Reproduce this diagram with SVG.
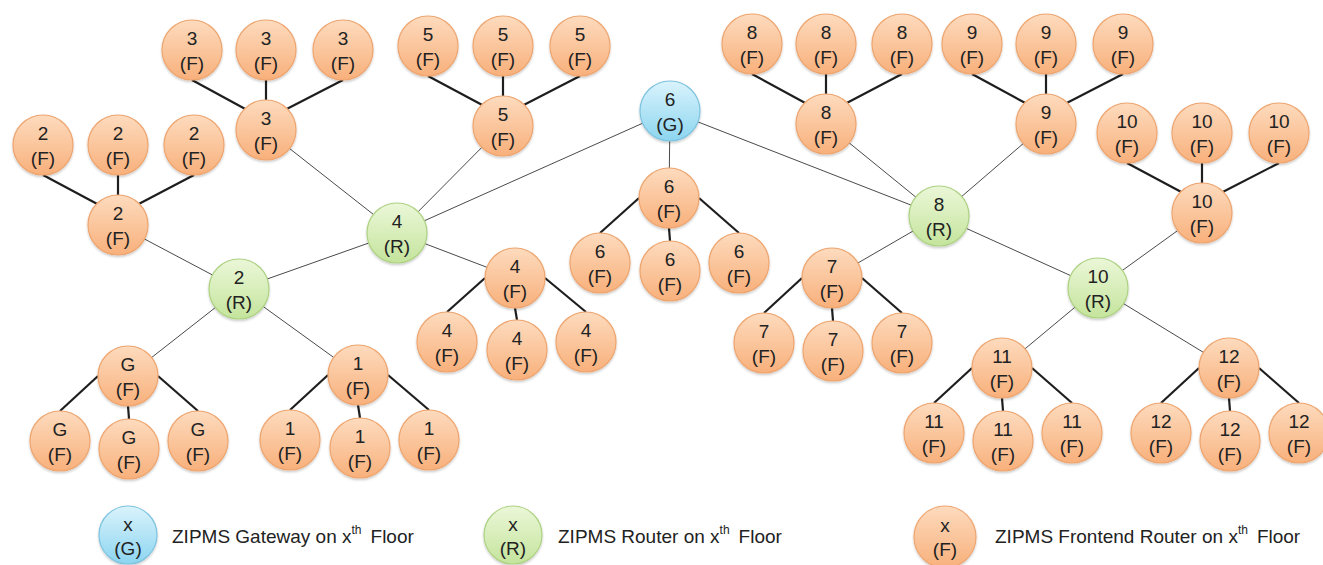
<svg xmlns="http://www.w3.org/2000/svg" width="1323" height="565" viewBox="0 0 1323 565">
<defs>
<linearGradient id="gf" x1="0" y1="0" x2="0" y2="1"><stop offset="0" stop-color="#FDDBBE"/><stop offset="1" stop-color="#F8B07B"/></linearGradient>
<linearGradient id="gr" x1="0" y1="0" x2="0" y2="1"><stop offset="0" stop-color="#EBF7D8"/><stop offset="1" stop-color="#C4E49C"/></linearGradient>
<linearGradient id="gg" x1="0" y1="0" x2="0" y2="1"><stop offset="0" stop-color="#DAF3FC"/><stop offset="1" stop-color="#8CD5F0"/></linearGradient>
<filter id="sh" x="-20%" y="-20%" width="140%" height="150%"><feDropShadow dx="0" dy="1.5" stdDeviation="1.2" flood-color="#000" flood-opacity="0.22"/></filter>
</defs>
<style>
.f{fill:url(#gf);stroke:#EEA56F;stroke-width:1.2;filter:url(#sh)}
.r{fill:url(#gr);stroke:#AED283;stroke-width:1.2;filter:url(#sh)}
.g{fill:url(#gg);stroke:#7EC3DF;stroke-width:1.2;filter:url(#sh)}
.t{font-family:"Liberation Sans",Arial,sans-serif;font-size:19px;fill:#222;text-anchor:middle}
.lg{font-family:"Liberation Sans",Arial,sans-serif;font-size:19px;fill:#222}
.thin{stroke:#4a4a4a;stroke-width:1;fill:none}
.thick{stroke:#1e1e1e;stroke-width:2.2;fill:none}
</style>
<rect width="1323" height="565" fill="#fff"/>
<g id="connectors">
<line class="thin" x1="118" y1="225" x2="239" y2="289"/>
<line class="thin" x1="239" y1="289" x2="397" y2="233"/>
<line class="thin" x1="239" y1="289" x2="128" y2="376"/>
<line class="thin" x1="239" y1="289" x2="358" y2="375"/>
<line class="thin" x1="266" y1="130" x2="397" y2="233"/>
<line class="thin" x1="503" y1="126" x2="397" y2="233"/>
<line class="thin" x1="670" y1="111" x2="397" y2="233"/>
<line class="thin" x1="397" y1="233" x2="515" y2="278"/>
<line class="thin" x1="670" y1="111" x2="669" y2="198"/>
<line class="thin" x1="670" y1="111" x2="939" y2="216"/>
<line class="thin" x1="826" y1="124" x2="939" y2="216"/>
<line class="thin" x1="1046" y1="124" x2="939" y2="216"/>
<line class="thin" x1="939" y1="216" x2="832" y2="278"/>
<line class="thin" x1="939" y1="216" x2="1098" y2="288"/>
<line class="thin" x1="1202" y1="213" x2="1098" y2="288"/>
<line class="thin" x1="1098" y1="288" x2="1002" y2="368"/>
<line class="thin" x1="1098" y1="288" x2="1229" y2="368"/>
<line class="thick" x1="43" y1="175" x2="96.8" y2="203.8"/>
<line class="thick" x1="118" y1="175" x2="118" y2="195"/>
<line class="thick" x1="194" y1="175" x2="139.2" y2="203.8"/>
<line class="thick" x1="192" y1="80" x2="244.8" y2="108.8"/>
<line class="thick" x1="266" y1="80" x2="266" y2="100"/>
<line class="thick" x1="343" y1="80" x2="287.2" y2="108.8"/>
<line class="thick" x1="428" y1="76" x2="481.8" y2="104.8"/>
<line class="thick" x1="503" y1="76" x2="503" y2="96"/>
<line class="thick" x1="580" y1="76" x2="524.2" y2="104.8"/>
<line class="thick" x1="752" y1="74" x2="804.8" y2="102.8"/>
<line class="thick" x1="826" y1="74" x2="826" y2="94"/>
<line class="thick" x1="902" y1="74" x2="847.2" y2="102.8"/>
<line class="thick" x1="972" y1="74" x2="1024.8" y2="102.8"/>
<line class="thick" x1="1046" y1="74" x2="1046" y2="94"/>
<line class="thick" x1="1123" y1="74" x2="1067.2" y2="102.8"/>
<line class="thick" x1="1127" y1="163" x2="1180.8" y2="191.8"/>
<line class="thick" x1="1202" y1="163" x2="1202" y2="183"/>
<line class="thick" x1="1279" y1="163" x2="1223.2" y2="191.8"/>
<line class="thick" x1="98" y1="376" x2="60" y2="411"/>
<line class="thick" x1="128" y1="406" x2="129" y2="419"/>
<line class="thick" x1="158" y1="376" x2="198" y2="411"/>
<line class="thick" x1="328" y1="375" x2="290" y2="410"/>
<line class="thick" x1="358" y1="405" x2="360" y2="418"/>
<line class="thick" x1="388" y1="375" x2="429" y2="410"/>
<line class="thick" x1="485" y1="278" x2="447" y2="312"/>
<line class="thick" x1="515" y1="308" x2="517" y2="320"/>
<line class="thick" x1="545" y1="278" x2="586" y2="312"/>
<line class="thick" x1="639" y1="198" x2="600" y2="233"/>
<line class="thick" x1="669" y1="228" x2="670" y2="241"/>
<line class="thick" x1="699" y1="198" x2="739" y2="233"/>
<line class="thick" x1="802" y1="278" x2="764" y2="313"/>
<line class="thick" x1="832" y1="308" x2="833" y2="321"/>
<line class="thick" x1="862" y1="278" x2="902" y2="313"/>
<line class="thick" x1="972" y1="368" x2="934" y2="403"/>
<line class="thick" x1="1002" y1="398" x2="1003" y2="411"/>
<line class="thick" x1="1032" y1="368" x2="1072" y2="403"/>
<line class="thick" x1="1199" y1="368" x2="1161" y2="403"/>
<line class="thick" x1="1229" y1="398" x2="1230" y2="411"/>
<line class="thick" x1="1259" y1="368" x2="1299" y2="403"/>
</g>
<g id="gw6"><circle class="g" cx="670" cy="111" r="30"/><text class="t"><tspan x="670" y="106">6</tspan><tspan x="670" y="131">(G)</tspan></text></g>
<g id="r2"><circle class="r" cx="239" cy="289" r="30"/><text class="t"><tspan x="239" y="284">2</tspan><tspan x="239" y="309">(R)</tspan></text></g>
<g id="r4"><circle class="r" cx="397" cy="233" r="30"/><text class="t"><tspan x="397" y="228">4</tspan><tspan x="397" y="253">(R)</tspan></text></g>
<g id="r8"><circle class="r" cx="939" cy="216" r="30"/><text class="t"><tspan x="939" y="211">8</tspan><tspan x="939" y="236">(R)</tspan></text></g>
<g id="r10"><circle class="r" cx="1098" cy="288" r="30"/><text class="t"><tspan x="1098" y="283">10</tspan><tspan x="1098" y="308">(R)</tspan></text></g>
<g id="f2p"><circle class="f" cx="118" cy="225" r="30"/><text class="t"><tspan x="118" y="220">2</tspan><tspan x="118" y="245">(F)</tspan></text></g>
<g id="f2a"><circle class="f" cx="43" cy="145" r="30"/><text class="t"><tspan x="43" y="140">2</tspan><tspan x="43" y="165">(F)</tspan></text></g>
<g id="f2b"><circle class="f" cx="118" cy="145" r="30"/><text class="t"><tspan x="118" y="140">2</tspan><tspan x="118" y="165">(F)</tspan></text></g>
<g id="f2c"><circle class="f" cx="194" cy="145" r="30"/><text class="t"><tspan x="194" y="140">2</tspan><tspan x="194" y="165">(F)</tspan></text></g>
<g id="f3p"><circle class="f" cx="266" cy="130" r="30"/><text class="t"><tspan x="266" y="125">3</tspan><tspan x="266" y="150">(F)</tspan></text></g>
<g id="f3a"><circle class="f" cx="192" cy="50" r="30"/><text class="t"><tspan x="192" y="45">3</tspan><tspan x="192" y="70">(F)</tspan></text></g>
<g id="f3b"><circle class="f" cx="266" cy="50" r="30"/><text class="t"><tspan x="266" y="45">3</tspan><tspan x="266" y="70">(F)</tspan></text></g>
<g id="f3c"><circle class="f" cx="343" cy="50" r="30"/><text class="t"><tspan x="343" y="45">3</tspan><tspan x="343" y="70">(F)</tspan></text></g>
<g id="f5p"><circle class="f" cx="503" cy="126" r="30"/><text class="t"><tspan x="503" y="121">5</tspan><tspan x="503" y="146">(F)</tspan></text></g>
<g id="f5a"><circle class="f" cx="428" cy="46" r="30"/><text class="t"><tspan x="428" y="41">5</tspan><tspan x="428" y="66">(F)</tspan></text></g>
<g id="f5b"><circle class="f" cx="503" cy="46" r="30"/><text class="t"><tspan x="503" y="41">5</tspan><tspan x="503" y="66">(F)</tspan></text></g>
<g id="f5c"><circle class="f" cx="580" cy="46" r="30"/><text class="t"><tspan x="580" y="41">5</tspan><tspan x="580" y="66">(F)</tspan></text></g>
<g id="f8p"><circle class="f" cx="826" cy="124" r="30"/><text class="t"><tspan x="826" y="119">8</tspan><tspan x="826" y="144">(F)</tspan></text></g>
<g id="f8a"><circle class="f" cx="752" cy="44" r="30"/><text class="t"><tspan x="752" y="39">8</tspan><tspan x="752" y="64">(F)</tspan></text></g>
<g id="f8b"><circle class="f" cx="826" cy="44" r="30"/><text class="t"><tspan x="826" y="39">8</tspan><tspan x="826" y="64">(F)</tspan></text></g>
<g id="f8c"><circle class="f" cx="902" cy="44" r="30"/><text class="t"><tspan x="902" y="39">8</tspan><tspan x="902" y="64">(F)</tspan></text></g>
<g id="f9p"><circle class="f" cx="1046" cy="124" r="30"/><text class="t"><tspan x="1046" y="119">9</tspan><tspan x="1046" y="144">(F)</tspan></text></g>
<g id="f9a"><circle class="f" cx="972" cy="44" r="30"/><text class="t"><tspan x="972" y="39">9</tspan><tspan x="972" y="64">(F)</tspan></text></g>
<g id="f9b"><circle class="f" cx="1046" cy="44" r="30"/><text class="t"><tspan x="1046" y="39">9</tspan><tspan x="1046" y="64">(F)</tspan></text></g>
<g id="f9c"><circle class="f" cx="1123" cy="44" r="30"/><text class="t"><tspan x="1123" y="39">9</tspan><tspan x="1123" y="64">(F)</tspan></text></g>
<g id="f10p"><circle class="f" cx="1202" cy="213" r="30"/><text class="t"><tspan x="1202" y="208">10</tspan><tspan x="1202" y="233">(F)</tspan></text></g>
<g id="f10a"><circle class="f" cx="1127" cy="133" r="30"/><text class="t"><tspan x="1127" y="128">10</tspan><tspan x="1127" y="153">(F)</tspan></text></g>
<g id="f10b"><circle class="f" cx="1202" cy="133" r="30"/><text class="t"><tspan x="1202" y="128">10</tspan><tspan x="1202" y="153">(F)</tspan></text></g>
<g id="f10c"><circle class="f" cx="1279" cy="133" r="30"/><text class="t"><tspan x="1279" y="128">10</tspan><tspan x="1279" y="153">(F)</tspan></text></g>
<g id="fGp"><circle class="f" cx="128" cy="376" r="30"/><text class="t"><tspan x="128" y="371">G</tspan><tspan x="128" y="396">(F)</tspan></text></g>
<g id="fGa"><circle class="f" cx="60" cy="441" r="30"/><text class="t"><tspan x="60" y="436">G</tspan><tspan x="60" y="461">(F)</tspan></text></g>
<g id="fGb"><circle class="f" cx="129" cy="449" r="30"/><text class="t"><tspan x="129" y="444">G</tspan><tspan x="129" y="469">(F)</tspan></text></g>
<g id="fGc"><circle class="f" cx="198" cy="441" r="30"/><text class="t"><tspan x="198" y="436">G</tspan><tspan x="198" y="461">(F)</tspan></text></g>
<g id="f1p"><circle class="f" cx="358" cy="375" r="30"/><text class="t"><tspan x="358" y="370">1</tspan><tspan x="358" y="395">(F)</tspan></text></g>
<g id="f1a"><circle class="f" cx="290" cy="440" r="30"/><text class="t"><tspan x="290" y="435">1</tspan><tspan x="290" y="460">(F)</tspan></text></g>
<g id="f1b"><circle class="f" cx="360" cy="448" r="30"/><text class="t"><tspan x="360" y="443">1</tspan><tspan x="360" y="468">(F)</tspan></text></g>
<g id="f1c"><circle class="f" cx="429" cy="440" r="30"/><text class="t"><tspan x="429" y="435">1</tspan><tspan x="429" y="460">(F)</tspan></text></g>
<g id="f4p"><circle class="f" cx="515" cy="278" r="30"/><text class="t"><tspan x="515" y="273">4</tspan><tspan x="515" y="298">(F)</tspan></text></g>
<g id="f4a"><circle class="f" cx="447" cy="342" r="30"/><text class="t"><tspan x="447" y="337">4</tspan><tspan x="447" y="362">(F)</tspan></text></g>
<g id="f4b"><circle class="f" cx="517" cy="350" r="30"/><text class="t"><tspan x="517" y="345">4</tspan><tspan x="517" y="370">(F)</tspan></text></g>
<g id="f4c"><circle class="f" cx="586" cy="342" r="30"/><text class="t"><tspan x="586" y="337">4</tspan><tspan x="586" y="362">(F)</tspan></text></g>
<g id="f6p"><circle class="f" cx="669" cy="198" r="30"/><text class="t"><tspan x="669" y="193">6</tspan><tspan x="669" y="218">(F)</tspan></text></g>
<g id="f6a"><circle class="f" cx="600" cy="263" r="30"/><text class="t"><tspan x="600" y="258">6</tspan><tspan x="600" y="283">(F)</tspan></text></g>
<g id="f6b"><circle class="f" cx="670" cy="271" r="30"/><text class="t"><tspan x="670" y="266">6</tspan><tspan x="670" y="291">(F)</tspan></text></g>
<g id="f6c"><circle class="f" cx="739" cy="263" r="30"/><text class="t"><tspan x="739" y="258">6</tspan><tspan x="739" y="283">(F)</tspan></text></g>
<g id="f7p"><circle class="f" cx="832" cy="278" r="30"/><text class="t"><tspan x="832" y="273">7</tspan><tspan x="832" y="298">(F)</tspan></text></g>
<g id="f7a"><circle class="f" cx="764" cy="343" r="30"/><text class="t"><tspan x="764" y="338">7</tspan><tspan x="764" y="363">(F)</tspan></text></g>
<g id="f7b"><circle class="f" cx="833" cy="351" r="30"/><text class="t"><tspan x="833" y="346">7</tspan><tspan x="833" y="371">(F)</tspan></text></g>
<g id="f7c"><circle class="f" cx="902" cy="343" r="30"/><text class="t"><tspan x="902" y="338">7</tspan><tspan x="902" y="363">(F)</tspan></text></g>
<g id="f11p"><circle class="f" cx="1002" cy="368" r="30"/><text class="t"><tspan x="1002" y="363">11</tspan><tspan x="1002" y="388">(F)</tspan></text></g>
<g id="f11a"><circle class="f" cx="934" cy="433" r="30"/><text class="t"><tspan x="934" y="428">11</tspan><tspan x="934" y="453">(F)</tspan></text></g>
<g id="f11b"><circle class="f" cx="1003" cy="441" r="30"/><text class="t"><tspan x="1003" y="436">11</tspan><tspan x="1003" y="461">(F)</tspan></text></g>
<g id="f11c"><circle class="f" cx="1072" cy="433" r="30"/><text class="t"><tspan x="1072" y="428">11</tspan><tspan x="1072" y="453">(F)</tspan></text></g>
<g id="f12p"><circle class="f" cx="1229" cy="368" r="30"/><text class="t"><tspan x="1229" y="363">12</tspan><tspan x="1229" y="388">(F)</tspan></text></g>
<g id="f12a"><circle class="f" cx="1161" cy="433" r="30"/><text class="t"><tspan x="1161" y="428">12</tspan><tspan x="1161" y="453">(F)</tspan></text></g>
<g id="f12b"><circle class="f" cx="1230" cy="441" r="30"/><text class="t"><tspan x="1230" y="436">12</tspan><tspan x="1230" y="461">(F)</tspan></text></g>
<g id="f12c"><circle class="f" cx="1299" cy="433" r="30"/><text class="t"><tspan x="1299" y="428">12</tspan><tspan x="1299" y="453">(F)</tspan></text></g>
<g id="legend-gateway"><circle class="g" cx="128" cy="535" r="29"/><text class="t"><tspan x="128" y="531">x</tspan><tspan x="128" y="555">(G)</tspan></text><text class="lg" x="172" y="543">ZIPMS Gateway on x<tspan font-size="12" dy="-9">th</tspan><tspan dx="9" dy="9">Floor</tspan></text></g>
<g id="legend-router"><circle class="r" cx="513" cy="535" r="29"/><text class="t"><tspan x="513" y="531">x</tspan><tspan x="513" y="555">(R)</tspan></text><text class="lg" x="558" y="543">ZIPMS Router on x<tspan font-size="12" dy="-9">th</tspan><tspan dx="9" dy="9">Floor</tspan></text></g>
<g id="legend-frontend"><circle class="f" cx="945" cy="537" r="31"/><text class="t"><tspan x="945" y="532">x</tspan><tspan x="945" y="556">(F)</tspan></text><text class="lg" x="995" y="543">ZIPMS Frontend Router on x<tspan font-size="12" dy="-9">th</tspan><tspan dx="9" dy="9">Floor</tspan></text></g>
</svg>
